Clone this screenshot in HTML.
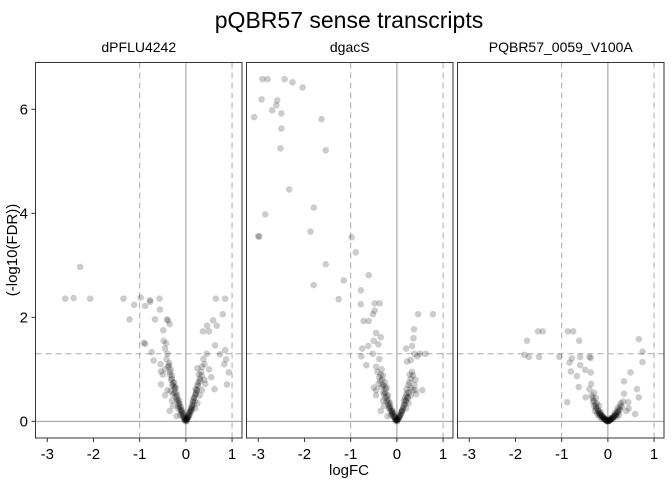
<!DOCTYPE html>
<html><head><meta charset="utf-8"><style>
body{margin:0;background:#fff;}
svg{display:block;font-family:"Liberation Sans",sans-serif;}
</style></head><body>
<svg id="chart" width="672" height="480" viewBox="0 0 672 480" xmlns="http://www.w3.org/2000/svg">
<text x="349" y="28" font-size="23" text-anchor="middle">pQBR57 sense transcripts</text>
<text x="349" y="475" font-size="15" text-anchor="middle">logFC</text>
<text transform="translate(17,250) rotate(-90)" font-size="15" text-anchor="middle">(-log10(FDR))</text>
<g id="panels"></g>
</svg>
<script>
const panelNames = ["dPFLU4242","dgacS","PQBR57_0059_V100A"];
const xTicks = [-3,-2,-1,0,1];
const yTicks = [0,2,4,6];
const vLinesDashed = [-1,1];
const hLineDashed = 1.3;
const p1x = [-2.29,-2.61,-2.43,-2.07,-1.35,-0.98,-0.78,-0.77,-0.57,-1.12,-0.88,-0.56,-1.22,-0.67,-0.41,-0.39,-0.35,-0.49,-0.91,-0.88,-0.74,-0.70,-0.54,-0.54,0.65,0.85,0.80,0.59,0.46,0.67,0.37,0.50,0.63,0.85,0.74,0.87,0.83,0.93,0.89,0.62,0.25,
-0.02,-0.04,-0.06,-0.05,-0.08,-0.1,-0.12,-0.09,-0.14,-0.16,-0.15,-0.18,-0.2,-0.22,-0.19,-0.25,-0.24,-0.27,-0.3,-0.26,-0.32,-0.3,-0.35,-0.33,-0.38,-0.36,-0.42,-0.4,-0.45,-0.43,-0.48,-0.4,-0.3,-0.28,-0.45,-0.5,-0.55,-0.35,-0.2,-0.45,-0.22,-0.28,-0.33,-0.17,-0.12,
0.02,0.04,0.06,0.08,0.1,0.12,0.14,0.16,0.15,0.18,0.2,0.22,0.21,0.25,0.27,0.3,0.28,0.33,0.35,0.4,0.38,0.45,0.3,0.25,0.35,0.4,0.5,0.2,0.0,0.01,-0.01,0.03,0.05,0.07,0.11,0.13,0.19,0.24,0.42,0.55,
-0.03,-0.05,-0.07,-0.09,-0.11,-0.13,-0.15,-0.18,-0.21,-0.24,-0.27,-0.3,-0.34,-0.37,0.03,0.05,0.07,0.09,0.11,0.13,0.15,0.18,0.21,0.24,0.27,0.31,0.34,0.0,-0.01,0.02];
const p1y = [2.97,2.36,2.37,2.36,2.36,2.38,2.33,2.30,2.36,2.24,2.22,2.15,1.96,1.96,1.96,1.94,1.87,1.75,1.51,1.49,1.33,1.17,0.96,0.71,2.36,2.36,2.06,1.94,1.84,1.84,1.73,1.73,1.46,1.37,1.29,1.19,1.10,0.94,0.71,0.62,1.02,
0.02,0.05,0.08,0.1,0.15,0.18,0.22,0.2,0.28,0.3,0.35,0.38,0.42,0.48,0.5,0.55,0.62,0.68,0.7,0.75,0.8,0.88,0.9,1.0,1.05,1.12,1.2,1.3,1.4,1.5,1.55,0.6,0.4,0.3,0.5,0.9,1.1,0.2,0.1,1.0,0.65,0.52,0.58,0.25,0.12,
0.03,0.06,0.1,0.12,0.18,0.22,0.28,0.32,0.4,0.45,0.5,0.55,0.62,0.7,0.75,0.82,0.9,0.95,1.05,1.1,1.2,1.3,0.5,0.35,0.6,0.8,1.0,0.25,0.0,0.04,0.03,0.05,0.08,0.14,0.2,0.26,0.38,0.6,0.72,0.85,
0.06,0.12,0.16,0.22,0.27,0.33,0.4,0.44,0.55,0.66,0.74,0.82,0.95,1.08,0.07,0.11,0.17,0.2,0.25,0.31,0.37,0.45,0.52,0.6,0.68,0.78,0.88,0.02,0.06,0.01];
const p2x = [-2.91,-2.80,-2.43,-2.26,-2.04,-2.93,-2.59,-2.61,-2.70,-2.50,-3.09,-1.63,-2.50,-2.52,-1.54,-2.33,-1.80,-2.85,-1.87,-3.0,-2.98,-0.98,-0.89,-1.54,-0.61,-1.15,-1.80,-0.78,-1.26,-0.48,-0.37,-0.78,-0.48,-0.52,-0.72,-0.61,0.46,0.78,0.37,0.36,-0.45,-0.35,-0.5,-0.62,-0.4,-0.75,-0.77,-0.52,-0.38,-0.66,-0.45,0.33,0.38,0.44,0.2,0.22,0.3,0.5,0.62,
-0.02,-0.04,-0.06,-0.05,-0.08,-0.1,-0.12,-0.09,-0.14,-0.16,-0.15,-0.18,-0.2,-0.22,-0.19,-0.25,-0.24,-0.27,-0.3,-0.26,-0.32,-0.3,-0.35,-0.33,-0.38,-0.36,-0.42,-0.4,-0.45,-0.3,-0.28,-0.45,-0.5,-0.35,-0.2,-0.22,-0.28,-0.17,-0.12,
0.02,0.04,0.06,0.08,0.1,0.12,0.14,0.16,0.15,0.18,0.2,0.22,0.21,0.25,0.27,0.3,0.28,0.33,0.35,0.4,0.38,0.3,0.25,0.35,0.4,0.2,0.0,0.01,-0.01,0.05,0.11,0.19,0.24,0.42,0.55,
-0.03,-0.05,-0.07,-0.09,-0.11,-0.13,-0.16,-0.19,-0.22,-0.25,-0.29,-0.33,0.03,0.05,0.07,0.09,0.11,0.14,0.17,0.2,0.23,0.26,0.3,0.0,0.01,-0.02];
const p2y = [6.58,6.58,6.58,6.52,6.42,6.19,6.17,6.08,5.98,5.92,5.85,5.81,5.63,5.25,5.21,4.46,4.11,3.98,3.65,3.56,3.55,3.54,3.25,3.02,2.81,2.71,2.62,2.52,2.35,2.27,2.27,2.25,2.13,2.06,1.93,1.93,2.06,2.06,1.77,1.60,1.70,1.62,1.55,1.45,1.48,1.40,1.25,1.30,1.20,1.08,1.05,1.45,1.30,1.25,1.40,1.15,1.18,1.30,1.30,
0.02,0.05,0.08,0.1,0.15,0.18,0.22,0.2,0.28,0.3,0.35,0.38,0.42,0.48,0.5,0.55,0.62,0.68,0.7,0.75,0.8,0.88,0.9,1.0,0.85,0.78,0.95,0.72,0.6,0.4,0.3,0.5,0.65,0.2,0.1,0.65,0.52,0.25,0.12,
0.03,0.06,0.1,0.12,0.18,0.22,0.28,0.32,0.4,0.45,0.5,0.55,0.62,0.7,0.75,0.82,0.9,0.95,0.88,0.8,0.7,0.5,0.35,0.6,0.6,0.25,0.0,0.04,0.03,0.08,0.2,0.38,0.45,0.52,0.6,
0.04,0.08,0.1,0.14,0.17,0.2,0.26,0.33,0.38,0.45,0.56,0.66,0.05,0.09,0.12,0.16,0.2,0.26,0.33,0.4,0.46,0.55,0.64,0.01,0.03,0.02];
const p3x = [-1.51,-1.41,-0.87,-0.75,-1.75,-0.62,-1.80,-1.71,-1.49,-1.05,-0.78,-0.83,-0.60,-0.40,-0.37,-0.60,-0.80,-0.49,-0.37,-0.67,-0.36,-0.63,-0.88,-0.48,0.67,0.75,0.75,0.49,0.35,0.63,0.67,0.59,0.35,0.44,-0.4,-0.3,-0.33,
-0.02,-0.04,-0.06,-0.05,-0.08,-0.1,-0.12,-0.09,-0.14,-0.16,-0.15,-0.18,-0.2,-0.22,-0.19,-0.25,-0.24,-0.27,-0.3,-0.26,-0.32,-0.35,-0.2,-0.28,-0.17,-0.12,-0.23,
0.02,0.04,0.06,0.08,0.1,0.12,0.14,0.16,0.15,0.18,0.2,0.22,0.21,0.25,0.27,0.3,0.28,0.33,0.0,0.01,-0.01,0.05,0.11,0.19,0.24,0.4,0.45,
-0.03,-0.05,-0.07,-0.09,-0.11,-0.13,-0.16,-0.19,-0.22,-0.26,-0.3,0.03,0.05,0.07,0.09,0.12,0.15,0.18,0.22,0.26,0.0,-0.01,0.02,-0.04,0.04];
const p3y = [1.73,1.73,1.73,1.73,1.55,1.55,1.28,1.24,1.24,1.24,1.21,1.13,1.24,1.24,1.22,1.08,0.96,0.99,0.94,0.87,0.72,0.66,0.37,0.46,1.58,1.34,1.14,0.94,0.77,0.62,0.46,0.14,0.53,0.37,0.62,0.55,0.45,
0.01,0.02,0.03,0.05,0.06,0.08,0.1,0.07,0.12,0.14,0.18,0.16,0.2,0.24,0.3,0.28,0.35,0.32,0.4,0.45,0.38,0.5,0.12,0.2,0.08,0.05,0.15,
0.01,0.02,0.04,0.05,0.07,0.09,0.1,0.12,0.16,0.14,0.2,0.18,0.26,0.24,0.3,0.28,0.35,0.38,0.0,0.02,0.01,0.06,0.05,0.09,0.12,0.2,0.25,
0.02,0.03,0.04,0.06,0.08,0.1,0.12,0.16,0.2,0.25,0.3,0.02,0.03,0.04,0.06,0.08,0.11,0.14,0.18,0.22,0.01,0.0,0.01,0.02,0.02];
const panelData = [[p1x,p1y],[p2x,p2y],[p3x,p3y]];

const NS="http://www.w3.org/2000/svg";
const panelLeft=[35.5,246.5,457.5], panelW=206.5, plotTop=62.5, plotBottom=438;
const xmin=-3.255, xmax=1.215, ymin=-0.32, ymax=6.9;
function sx(p,v){return panelLeft[p]+(v-xmin)/(xmax-xmin)*panelW;}
function sy(v){return plotBottom-(v-ymin)/(ymax-ymin)*(plotBottom-plotTop);}
function mk(tag,attrs,parent){const e=document.createElementNS(NS,tag);for(const k in attrs)e.setAttribute(k,attrs[k]);parent.appendChild(e);return e;}
const root=document.getElementById('panels');
for(let p=0;p<3;p++){
  const g=mk('g',{},root);
  
  
  const st=mk('text',{x:panelLeft[p]+panelW/2,y:52,'font-size':14,'text-anchor':'middle'},g);
  st.textContent=panelNames[p];
  
  
  const z1=mk('line',{x1:sx(p,0),x2:sx(p,0),y1:plotTop,y2:plotBottom,stroke:'#999','stroke-width':1},g);
  
  
  const z2=mk('line',{x1:panelLeft[p],x2:panelLeft[p]+panelW,y1:sy(0),y2:sy(0),stroke:'#999','stroke-width':1},g);
  
  
  vLinesDashed.forEach(v=>{const l=mk('line',{x1:sx(p,v),x2:sx(p,v),y1:plotTop,y2:plotBottom,stroke:'#aaa','stroke-width':1,'stroke-dasharray':'6,4'},g);
    
    });
  const hl=mk('line',{x1:panelLeft[p],x2:panelLeft[p]+panelW,y1:sy(hLineDashed),y2:sy(hLineDashed),stroke:'#aaa','stroke-width':1,'stroke-dasharray':'6,4'},g);
  
  
  const xs=panelData[p][0], ys=panelData[p][1];
  const n=Math.min(xs.length,ys.length);
  for(let i=0;i<n;i++){
    const c=mk('circle',{cx:sx(p,xs[i]),cy:sy(ys[i]),r:3.3,fill:'#000','fill-opacity':0.2},g);
    
    
  }
  const fr=mk('rect',{x:panelLeft[p],y:plotTop,width:panelW,height:plotBottom-plotTop,fill:'none',stroke:'#333','stroke-width':1},g);
  
  
  xTicks.forEach(t=>{
    const tk=mk('line',{x1:sx(p,t),x2:sx(p,t),y1:plotBottom,y2:plotBottom+4,stroke:'#333'},g);
    
    
    const tl=mk('text',{x:sx(p,t),y:plotBottom+21,'font-size':15,'text-anchor':'middle'},g);
    tl.textContent=String(t);
    
    
  });
}
yTicks.forEach(t=>{
  const tk=mk('line',{x1:31.5,x2:35.5,y1:sy(t),y2:sy(t),stroke:'#333'},root);
  
  
  const tl=mk('text',{x:28,y:sy(t)+5,'font-size':15,'text-anchor':'end'},root);
  tl.textContent=String(t);
  
  
});
</script>
</body></html>
